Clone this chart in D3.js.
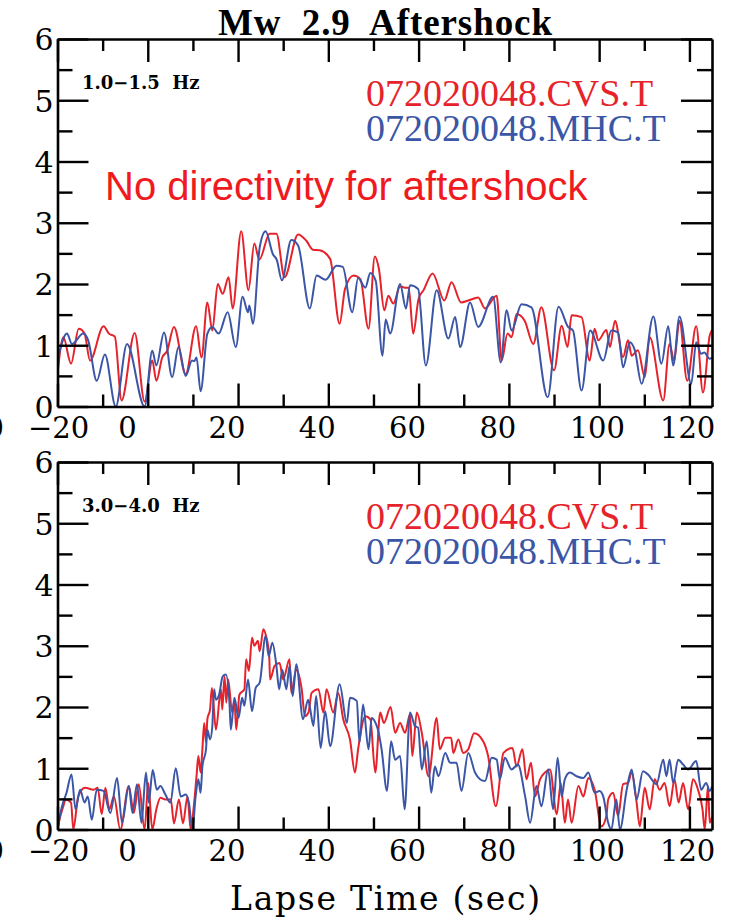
<!DOCTYPE html>
<html>
<head>
<meta charset="utf-8">
<script src="https://cdn.jsdelivr.net/npm/d3@7"></script>
<style>
  html, body { margin: 0; padding: 0; background: #fff; }
  svg { display: block; }
</style>
</head>
<body>
<svg id="chart" width="743" height="923"></svg>
<script>
// ---- Data: envelope amplitude vs lapse time, [seconds, amplitude] ----
const cvsLow = [[-20,0.53],[-18.7,1.13],[-17,0.70],[-15.3,1.27],[-14,1.19],[-12.8,0.75],[-9.8,1.31],[-8.6,1.19],[-7.3,1.14],[-5.8,0.10],[-2.9,1.20],[-0.7,0.08],[1.0,0.75],[1.9,0.42],[3.2,0.80],[4.3,0.91],[5.8,1.30],[8.4,0.53],[10.7,1.31],[11.9,0.80],[13.2,1.70],[14.3,1.24],[15.5,2.00],[16.6,1.84],[17.9,2.11],[18.8,1.60],[20.7,2.86],[22.3,1.90],[23.6,2.66],[24.7,2.40],[27.0,2.82],[28.5,2.82],[30.3,2.11],[33.3,2.81],[35.1,2.71],[36.6,2.56],[38.1,2.55],[40.4,2.41],[42.5,1.35],[43.7,1.92],[45.6,2.14],[47.1,2.08],[48.9,1.27],[50.3,2.45],[51.2,2.25],[52.4,1.57],[53.3,1.81],[54.4,1.68],[55.9,1.96],[57.0,1.94],[57.8,1.94],[58.8,1.19],[60.0,1.76],[61.1,1.90],[63.1,2.17],[65.7,1.73],[67.3,2.03],[69.4,1.70],[71.0,1.73],[73.2,1.78],[74.7,1.60],[77.3,1.81],[78.4,0.75],[79.7,1.19],[80.6,1.13],[81.7,1.51],[83.5,1.40],[85.4,1.02],[87.2,1.62],[90.0,0.59],[91.7,1.32],[93.0,0.97],[93.9,1.49],[96.1,1.46],[97.9,0.75],[99.0,1.27],[99.8,1.08],[101.6,1.25],[102.4,0.97],[103.5,1.40],[105.3,0.81],[106.4,1.08],[107.2,0.83],[108.6,0.92],[110.1,0.48],[111.2,1.13],[114.2,0.10],[115.6,1.02],[116.6,0.75],[117.8,1.40],[119.5,0.42],[121.5,1.31],[123.0,0.23],[124.5,1.16],[125,1.25]];

const mhcLow = [[-20,0.75],[-17.9,1.19],[-16.8,1.02],[-14.3,1.19],[-13.2,1.08],[-11.3,0.42],[-9.5,0.85],[-7.1,0.0],[-4.6,1.02],[-0.7,0.0],[1.0,0.91],[1.9,0.67],[3.6,1.21],[5.4,0.48],[6.8,0.97],[8.4,0.50],[9.8,0.75],[10.3,0.74],[10.8,0.80],[11.7,0.25],[13.2,1.19],[14.3,1.30],[15.7,1.19],[17.7,1.54],[19.5,0.97],[21.0,1.79],[22.2,1.54],[22.5,1.65],[23.3,1.35],[24.8,2.60],[26.1,2.86],[27.7,2.49],[28.6,2.39],[29.7,2.06],[31.8,2.72],[33.3,2.63],[35.9,1.60],[37.4,2.14],[39.4,2.07],[41.8,2.30],[43.2,2.28],[45.3,1.54],[46.6,2.10],[48.2,1.94],[49.3,2.18],[50.5,2.05],[52.0,0.83],[52.7,1.42],[53.7,1.19],[55.9,2.00],[57.2,1.60],[58.1,1.98],[59.9,1.92],[61.6,0.67],[64.0,1.90],[66.6,1.11],[68.1,1.46],[69.2,0.97],[71.4,1.70],[73.2,1.30],[76.5,1.79],[78.2,0.72],[79.5,1.57],[80.6,1.24],[82.8,1.67],[85.0,1.62],[88.6,0.15],[91.0,1.63],[93.1,1.30],[94.2,1.24],[96.1,0.26],[98.0,1.24],[100.9,0.75],[102.7,1.24],[104.2,1.21],[105.3,0.64],[106.8,1.05],[107.9,0.92],[109.4,0.37],[112.0,1.47],[113.8,0.70],[115.3,1.31],[116.4,0.67],[117.8,1.47],[120.4,0.37],[121.5,1.05],[122.6,0.86],[123.3,0.88],[124.5,0.78],[125,0.80]];

const cvsHigh = [[-20,0.0],[-19.6,0.15],[-18.7,0.38],[-18.2,0.49],[-17.0,0.44],[-16.5,0.0],[-15.4,0.54],[-13.9,0.68],[-12.0,0.65],[-11.1,0.68],[-10.2,0.25],[-9.4,0.68],[-8.5,0.33],[-7.5,0.54],[-6.1,0.0],[-4.2,0.71],[-3.1,0.27],[-2.0,0.74],[-0.7,0.0],[0.1,0.76],[1.0,0.0],[1.9,0.33],[2.8,0.52],[3.9,0.49],[5.1,0.49],[5.8,0.10],[6.9,0.49],[7.8,0.10],[8.8,0.54],[9.5,0.0],[10.2,0.38],[10.8,0.87],[11.2,1.20],[11.7,0.93],[12.1,1.31],[12.5,1.74],[12.9,1.42],[13.2,1.80],[13.8,1.96],[14.2,2.31],[15.1,1.63],[16.2,2.29],[16.5,1.96],[17.0,2.50],[17.4,2.07],[17.8,2.45],[18.7,1.91],[19.2,2.10],[19.6,1.63],[20.3,2.20],[21.4,2.29],[21.8,2.78],[22.4,2.59],[23.1,3.13],[23.6,3.00],[24.4,3.08],[24.8,2.91],[25.6,3.27],[26.2,3.16],[26.9,2.83],[27.1,2.45],[28.1,2.67],[29.2,2.72],[30.0,2.45],[31.4,2.78],[31.8,2.23],[32.9,2.61],[34.1,2.29],[34.8,1.85],[35.6,1.91],[36.3,2.23],[37.8,2.29],[38.9,1.91],[39.6,2.29],[41.1,1.91],[42.2,2.23],[43.3,1.80],[44.8,1.47],[45.9,0.93],[46.6,1.31],[48.2,1.85],[49.3,1.80],[50.4,0.93],[51.5,1.91],[52.3,1.74],[53.8,2.00],[54.8,1.58],[55.9,1.74],[57.0,1.58],[58.1,1.88],[58.6,1.20],[59.6,1.91],[60.7,1.58],[62.2,0.87],[64.0,1.82],[64.7,1.31],[65.9,1.50],[67.2,1.50],[67.7,1.25],[68.8,1.47],[69.9,1.25],[71.0,1.31],[72.3,1.57],[74.3,1.44],[75.4,1.20],[77.1,0.38],[78.8,1.25],[80.8,1.33],[81.7,1.03],[83.0,1.31],[83.9,0.82],[84.9,1.09],[85.8,0.54],[86.9,0.82],[88.0,0.93],[89.1,0.98],[90.6,0.25],[91.5,0.76],[92.4,0.11],[93.1,0.49],[93.9,0.11],[95.4,0.71],[96.5,0.54],[97.6,0.84],[99.0,0.65],[100.5,0.05],[101.6,0.22],[102.0,0.49],[103.1,0.60],[104.2,0.22],[105.3,0.74],[106.4,0.76],[107.2,0.93],[108.3,0.44],[109.0,0.05],[110.1,0.68],[111.2,0.33],[112.3,0.82],[113.4,0.65],[114.5,0.76],[115.6,0.38],[116.7,0.82],[117.6,0.44],[118.6,0.76],[119.7,0.33],[120.8,0.82],[121.9,0.65],[122.9,0.33],[123.4,0.0],[124.1,0.71],[124.5,0.11],[125,0.20]];

const mhcHigh = [[-20,0.0],[-19.0,0.38],[-18.0,0.60],[-16.9,0.90],[-16.0,0.33],[-15.0,0.65],[-14.0,0.44],[-13.3,0.54],[-12.4,0.16],[-11.3,0.65],[-9.8,0.63],[-8.3,0.27],[-6.8,0.84],[-5.7,0.11],[-4.2,0.71],[-3.4,0.27],[-2.4,0.74],[-1.4,0.11],[-0.4,0.93],[0.2,0.44],[1.1,0.97],[2.0,0.65],[2.8,0.71],[3.9,0.57],[5.0,0.44],[6.2,1.00],[7.3,0.54],[8.4,0.57],[9.1,0.44],[9.9,0.0],[10.6,0.54],[11.2,0.82],[11.7,0.60],[12.1,1.03],[12.9,1.31],[13.2,1.63],[13.8,1.47],[14.3,1.69],[14.7,2.29],[15.1,2.12],[15.8,2.20],[16.6,2.50],[17.3,2.53],[18.1,2.07],[18.4,1.63],[19.2,2.15],[20.1,1.82],[20.9,2.15],[21.4,2.02],[22.2,2.45],[23.1,1.93],[23.9,2.31],[24.8,2.40],[26.1,3.16],[26.8,2.83],[27.6,3.05],[28.5,2.67],[29.1,2.29],[29.8,2.61],[30.7,2.29],[31.4,2.67],[32.1,2.18],[32.9,2.70],[34.4,1.80],[35.5,2.12],[36.0,1.96],[36.7,1.69],[37.3,2.18],[38.3,1.33],[39.3,1.93],[40.4,1.36],[42.5,2.37],[44.1,1.74],[44.8,2.15],[46.3,2.10],[46.9,1.42],[47.7,2.04],[48.9,1.31],[49.6,1.82],[50.4,1.75],[51.0,1.63],[51.8,1.31],[53.0,0.63],[53.9,1.44],[54.8,1.14],[55.9,1.20],[56.9,0.33],[58.1,1.91],[59.2,1.69],[59.9,1.66],[60.7,0.98],[61.8,1.44],[62.8,0.60],[63.6,1.03],[64.4,0.87],[65.9,1.25],[67.0,1.09],[68.4,1.09],[69.5,0.63],[71.0,1.25],[72.5,0.93],[73.6,0.82],[74.7,0.79],[76.2,1.17],[77.3,1.14],[78.0,0.82],[79.1,1.17],[80.6,0.98],[82.0,1.06],[83.6,0.54],[84.7,0.11],[86.1,0.71],[87.2,0.38],[88.7,0.98],[89.8,0.33],[90.8,1.17],[91.7,0.54],[92.4,0.82],[93.5,0.93],[95.0,0.87],[96.5,0.84],[97.6,0.93],[99.0,0.60],[100.1,0.63],[100.9,0.54],[102.0,0.11],[102.7,0.0],[103.8,0.49],[104.6,0.0],[106.1,0.65],[107.2,0.98],[108.3,0.49],[109.7,0.95],[110.8,0.90],[112.7,0.74],[114.2,1.14],[114.9,0.87],[115.6,1.14],[116.4,0.76],[117.5,1.14],[118.6,1.06],[119.7,0.98],[121.5,1.12],[122.6,0.65],[123.7,0.76],[124.5,0.63],[125,0.70]];

const xTicksMajor = [-20, 0, 20, 40, 60, 80, 100, 120];
const xTicksMinor = [-10, 10, 30, 50, 70, 90, 110];
const yTicksMajor = [0, 1, 2, 3, 4, 5, 6];
const yTicksMinor = [0.5, 1.5, 2.5, 3.5, 4.5, 5.5];
const bandLabels = ["1.0\u22121.5  Hz", "3.0\u22124.0  Hz"];
const stationNames = ["072020048.CVS.T", "072020048.MHC.T"];
const titleText = "Mw  2.9  Aftershock";
const xAxisTitle = "Lapse Time (sec)";
const noteText = "No directivity for aftershock";

// ---- Layout ----
const RED = "#e6232b", BLUE = "#3b56a6";
const SERIF_TICK = "'DejaVu Serif', serif";
const SERIF_TEXT = "'Liberation Serif', 'Times New Roman', serif";
const plotLeft = 57.5, plotRight = 712;
const panelH = 367.5;
const panels = [
  { top: 39,  band: bandLabels[0], series: [cvsLow, mhcLow],  note: true },
  { top: 462, band: bandLabels[1], series: [cvsHigh, mhcHigh], note: false }
];

const svg = d3.select("#chart");
const x = d3.scaleLinear().domain([-20, 125]).range([plotLeft, plotRight]);
const fmt = d => d < 0 ? "\u2212" + Math.abs(d) : String(d);

panels.forEach((p, i) => {
  const y = d3.scaleLinear().domain([0, 6]).range([p.top + panelH, p.top]);
  const g = svg.append("g");

  // clip the traces to the plot frame
  const clipId = "clip" + i;
  svg.append("clipPath").attr("id", clipId)
    .append("rect")
    .attr("x", x(-20)).attr("y", y(6))
    .attr("width", x(125) - x(-20)).attr("height", y(0) - y(6));

  const line = d3.line()
    .x(d => x(d[0])).y(d => y(d[1]))
    .curve(d3.curveMonotoneX);

  const traces = g.append("g").attr("clip-path", `url(#${clipId})`);
  [RED, BLUE].forEach((c, k) => {
    traces.append("path")
      .datum(p.series[k])
      .attr("d", line)
      .attr("fill", "none")
      .attr("stroke", c)
      .attr("stroke-width", 2)
      .attr("stroke-linejoin", "round");
  });

  // bottom axis, labelled
  const bottom = g.append("g")
    .attr("transform", `translate(0,${y(0)})`)
    .call(d3.axisBottom(x).tickValues(xTicksMajor).tickSize(-23).tickSizeOuter(0).tickFormat(fmt));
  bottom.selectAll("text")
    .attr("y", 31).attr("dy", 0).attr("x", -30)
    .attr("text-anchor", "start")
    .style("font-family", SERIF_TICK).style("font-size", "29px").attr("fill", "#000");
  g.append("g")
    .attr("transform", `translate(0,${y(0)})`)
    .call(d3.axisBottom(x).tickValues(xTicksMinor).tickSize(-12).tickFormat(""))
    .call(s => s.select(".domain").remove());

  // clipped label at the left page edge
  g.append("text")
    .attr("x", 4).attr("y", y(0) + 31)
    .attr("text-anchor", "end")
    .style("font-family", SERIF_TICK).style("font-size", "29px")
    .text("0");

  // top axis
  g.append("g")
    .attr("transform", `translate(0,${y(6)})`)
    .call(d3.axisTop(x).tickValues(xTicksMajor).tickSize(-23).tickSizeOuter(0).tickFormat(""));
  g.append("g")
    .attr("transform", `translate(0,${y(6)})`)
    .call(d3.axisTop(x).tickValues(xTicksMinor).tickSize(-12).tickFormat(""))
    .call(s => s.select(".domain").remove());

  // left axis, labelled
  const left = g.append("g")
    .attr("transform", `translate(${x(-20)},0)`)
    .call(d3.axisLeft(y).tickValues(yTicksMajor).tickSize(-31).tickSizeOuter(0).tickPadding(4).tickFormat(d3.format("d")));
  left.selectAll("text")
    .attr("dy", "0.36em")
    .style("font-family", SERIF_TICK).style("font-size", "30px").attr("fill", "#000");
  g.append("g")
    .attr("transform", `translate(${x(-20)},0)`)
    .call(d3.axisLeft(y).tickValues(yTicksMinor).tickSize(-15).tickFormat(""))
    .call(s => s.select(".domain").remove());

  // right axis
  g.append("g")
    .attr("transform", `translate(${x(125)},0)`)
    .call(d3.axisRight(y).tickValues(yTicksMajor).tickSize(-31).tickSizeOuter(0).tickFormat(""));
  g.append("g")
    .attr("transform", `translate(${x(125)},0)`)
    .call(d3.axisRight(y).tickValues(yTicksMinor).tickSize(-15).tickFormat(""))
    .call(s => s.select(".domain").remove());

  g.selectAll(".domain").attr("stroke", "#000").attr("stroke-width", 2.6);
  g.selectAll(".tick line").attr("stroke", "#000").attr("stroke-width", 2.4);

  // band label
  g.append("text")
    .attr("x", 82).attr("y", p.top + 50)
    .style("font-family", SERIF_TICK).style("font-weight", "bold")
    .style("font-size", "18px").style("white-space", "pre")
    .text(p.band);

  // station legend
  stationNames.forEach((name, k) => {
    g.append("text")
      .attr("x", 366).attr("y", p.top + 67 + 35 * k)
      .attr("fill", k === 0 ? RED : BLUE)
      .style("font-family", SERIF_TEXT).style("font-size", "38px")
      .text(name);
  });

  if (p.note) {
    g.append("text")
      .attr("x", 105).attr("y", 200)
      .attr("fill", "#f0191e")
      .style("font-family", "'Liberation Sans', Arial, sans-serif")
      .style("font-size", "40px")
      .text(noteText);
  }
});

// chart title
svg.append("text")
  .attr("x", 385).attr("y", 35)
  .attr("text-anchor", "middle")
  .style("font-family", SERIF_TEXT).style("font-weight", "bold")
  .style("font-size", "37px").style("white-space", "pre")
  .attr("textLength", 334).attr("lengthAdjust", "spacing")
  .text(titleText);

// x axis title
svg.append("text")
  .attr("x", 385).attr("y", 910)
  .attr("text-anchor", "middle")
  .style("font-family", SERIF_TICK).style("font-size", "33px")
  .attr("textLength", 310).attr("lengthAdjust", "spacing")
  .text(xAxisTitle);
</script>
</body>
</html>
